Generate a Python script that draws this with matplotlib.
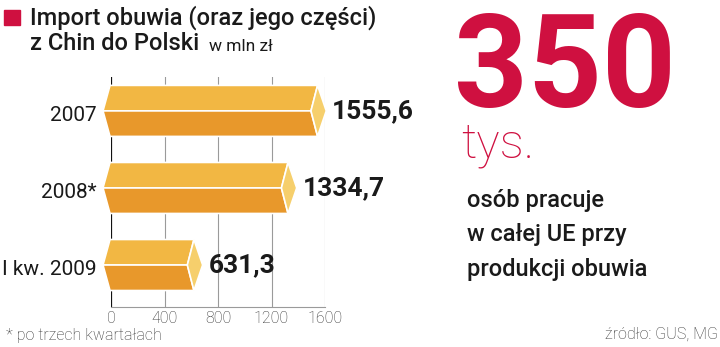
import matplotlib
matplotlib.use("Agg")
import matplotlib.pyplot as plt
from matplotlib.patches import Polygon, Rectangle

categories = ["2007", "2008*", "I kw. 2009"]
values = [1555.6, 1334.7, 631.3]
value_labels = ["1555,6", "1334,7", "631,3"]
xticks = [0, 400, 800, 1200, 1600]

RED = "#cf1040"
TOP = "#f2b743"
BOT = "#e8982b"
CAP = "#f6cf6c"

W, H = 720, 347
fig = plt.figure(figsize=(W / 100, H / 100), dpi=100)

def fx(px):
    return px / W

def fy(py):
    return 1 - py / H

ax = fig.add_axes([fx(111), fy(307), fx(325) - fx(111), fy(77) - fy(307)])
ax.set_xlim(0, 1600)
ax.set_ylim(2.545, -0.44)
for s in ["top", "right", "left"]:
    ax.spines[s].set_visible(False)
ax.spines["bottom"].set_color("#9a9a9a")
ax.spines["bottom"].set_linewidth(0.8)
ax.set_yticks([])
ax.set_xticks(xticks)
ax.set_xticklabels([str(t) for t in xticks], family="Roboto", fontweight="light",
                   fontsize=11.5, color="#333333")
ax.tick_params(axis="x", length=0, pad=3)
for t in xticks[1:]:
    ax.axvline(t, color="#9a9a9a", lw=0.8, zorder=0)
ax.axvline(0, color="#111111", lw=1.6, zorder=0)

px = 1600 / 214.0
hh = 0.331
for i, (cat, v, lab) in enumerate(zip(categories, values, value_labels)):
    c = v - 1.5 * px
    left_tip = -8 * px
    left = -1 * px
    inner = c - 6.6 * px
    outer = c + 8.7 * px
    top_face = [(left_tip, i), (left, i - hh), (c, i - hh), (inner, i)]
    bot_face = [(left_tip, i), (inner, i), (c, i + hh), (left, i + hh)]
    cap = [(c, i - hh), (outer, i), (c, i + hh), (inner, i)]
    for poly, col in [(top_face, TOP), (bot_face, BOT), (cap, CAP)]:
        ax.add_patch(Polygon(poly, closed=True, facecolor=col, edgecolor="white",
                             lw=1.2, zorder=2, clip_on=False, joinstyle="miter"))
    ax.text(outer + 6 * px, i + 0.1, lab, family="Roboto", fontweight="bold",
            fontsize=19, color="#1a1a1a", va="baseline", ha="left")
    ax.text(-14 * px, i + 0.13, cat, family="Roboto", fontsize=15,
            color="#1a1a1a", va="baseline", ha="right", clip_on=False)

# title
fig.patches.append(Rectangle((fx(4), fy(25)), fx(16), fy(10) - fy(25),
                             transform=fig.transFigure, color=RED))
fig.text(fx(30), fy(25), "Import obuwia (oraz jego części)", family="Roboto",
         fontweight="medium", fontsize=17, color="#1a1a1a", va="baseline")
fig.text(fx(30), fy(50), "z Chin do Polski", family="Roboto",
         fontweight="medium", fontsize=17, color="#1a1a1a", va="baseline")
fig.text(fx(209), fy(51), "w mln zł", family="Roboto",
         fontsize=12.5, color="#1a1a1a", va="baseline")

# right panel
fig.text(fx(454), fy(107), "350", family="Roboto", fontweight="bold",
         fontsize=93, color=RED, va="baseline")
fig.text(fx(461), fy(158), "tys.", family="Roboto", fontweight="light",
         fontsize=35, color=RED, va="baseline")
for k, line in enumerate(["osób pracuje", "w całej UE przy", "produkcji obuwia"]):
    fig.text(fx(467), fy(207 + 34.5 * k), line, family="Roboto",
             fontweight="medium", fontsize=17, color="#1a1a1a", va="baseline")

fig.text(fx(6), fy(340), "* po trzech kwartałach", family="Roboto",
         fontweight="light", fontsize=11.5, color="#333333", va="baseline")
fig.text(fx(718), fy(339), "źródło: GUS, MG", family="Roboto",
         fontweight="light", fontsize=11.5, color="#333333", va="baseline", ha="right")

fig.savefig("out.png", dpi=100)
